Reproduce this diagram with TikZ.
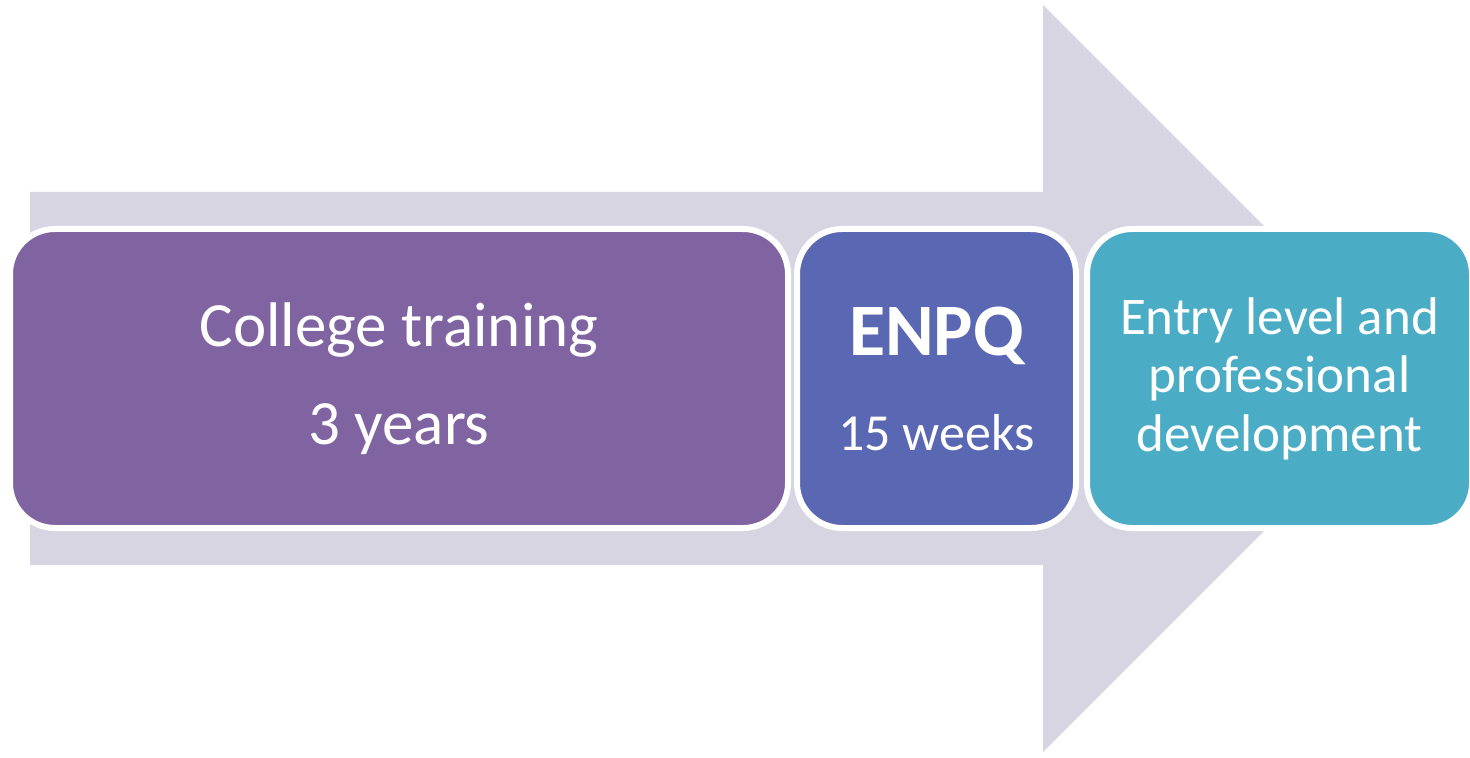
\documentclass[tikz,border=0pt]{standalone}
\usepackage{fontspec}
\setmainfont{Carlito}
\usetikzlibrary{positioning}
\definecolor{arrowgrey}{RGB}{216,213,227}
\definecolor{collegecolor}{RGB}{128,100,162}
\definecolor{enpqcolor}{RGB}{90,103,179}
\definecolor{entrycolor}{RGB}{75,172,198}

\begin{document}
\begin{tikzpicture}[x=0.5pt, y=-0.5pt, stagebox/.style={draw=white, line width=3pt, rounded corners=22.5pt, minimum height=149.5pt, inner sep=0pt, outer sep=0pt, align=center, text=white}]

    \useasboundingbox (0,0) rectangle (1470,758);

    % big arrow behind the stages
    \fill[arrowgrey] (30,192) -- (1043,192) -- (1043,5) -- (1416.5,378.5) -- (1043,752) -- (1043,565) -- (30,565) -- cycle;

    \node[stagebox, fill=collegecolor, minimum width=389pt, font={\fontsize{31.5pt}{49pt}\selectfont}](college) at (399,378.5) {College training\\3 years};

    \node[stagebox, fill=enpqcolor, minimum width=139.5pt, right=4.5pt of college, font={\fontsize{26pt}{47.5pt}\selectfont}](enpq) {{\fontsize{37pt}{47.5pt}\selectfont\bfseries ENPQ}\\15 weeks};

    \node[stagebox, fill=entrycolor, minimum width=192.5pt, right=5.5pt of enpq, font={\fontsize{26.5pt}{29.25pt}\selectfont}](entry) {Entry level and\\professional\\development};

\end{tikzpicture}
\end{document}
